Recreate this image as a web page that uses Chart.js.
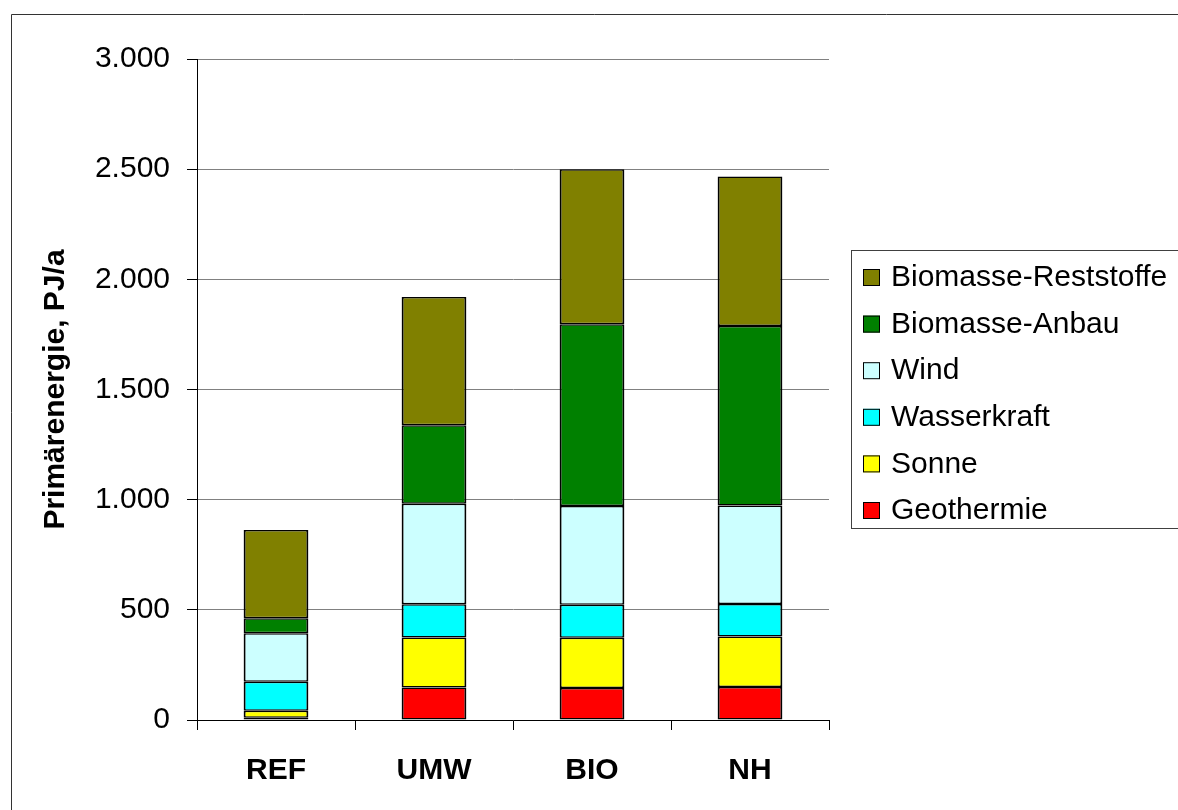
<!DOCTYPE html>
<html>
<head>
<meta charset="utf-8">
<script src="https://cdn.jsdelivr.net/npm/chart.js@4.4.0/dist/chart.umd.min.js"></script>
<style>
    html, body { margin: 0; padding: 0; background: #fff; }
    #wrap { width: 1178px; height: 810px; position: relative; }
</style>
</head>
<body>
<div id="wrap"><canvas id="chart" width="1178" height="810"></canvas></div>
<script>
// Data (PJ/a)
const categories = ['REF', 'UMW', 'BIO', 'NH'];
const geothermie = [10, 147, 145, 150];
const sonne = [32, 228, 228, 229];
const wasserkraft = [132, 150, 150, 148];
const wind = [220, 457, 448, 447];
const biomasseAnbau = [68, 356, 825, 814];
const biomasseReststoffe = [400, 582, 704, 679];
const yTickLabels = ['0', '500', '1.000', '1.500', '2.000', '2.500', '3.000'];

const FONT = "'Liberation Sans', Arial, sans-serif";

function makeSet(label, data, color) {
    return {
        label: label,
        data: data,
        backgroundColor: color,
        borderColor: '#000',
        // sides 2px, stacked edges add up to ~3px
        borderWidth: { top: 1.5, bottom: 1.5, left: 2, right: 2 },
        borderSkipped: false,
        categoryPercentage: 1,
        barPercentage: 0.41
    };
}

// Outer frame of the picture
const framePlugin = {
    id: 'frame',
    afterDraw(chart) {
        const ctx = chart.ctx;
        ctx.save();
        ctx.strokeStyle = '#333';
        ctx.lineWidth = 1;
        ctx.beginPath();
        ctx.moveTo(11.5, 810);
        ctx.lineTo(11.5, 14.5);
        ctx.lineTo(1178, 14.5);
        ctx.stroke();
        ctx.restore();
    }
};

// Boxed legend on the right, top entry = top of stack
const legendPlugin = {
    id: 'boxLegend',
    afterDraw(chart) {
        const ctx = chart.ctx;
        const sets = chart.data.datasets.slice().reverse();
        ctx.save();
        ctx.strokeStyle = '#404040';
        ctx.lineWidth = 1;
        ctx.strokeRect(851.5, 250.5, 340, 278);
        ctx.font = '30px ' + FONT;
        ctx.textBaseline = 'middle';
        ctx.textAlign = 'left';
        sets.forEach((ds, i) => {
            const cy = 277 + i * 46.6;
            ctx.fillStyle = ds.backgroundColor;
            ctx.fillRect(863, cy - 8, 17, 17);
            ctx.strokeStyle = '#000';
            ctx.strokeRect(863.5, cy - 7.5, 16, 16);
            ctx.fillStyle = '#000';
            ctx.fillText(ds.label, 891, cy + 1);
        });
        ctx.restore();
    }
};

new Chart(document.getElementById('chart'), {
    type: 'bar',
    data: {
        labels: categories,
        datasets: [
            makeSet('Geothermie', geothermie, '#FF0000'),
            makeSet('Sonne', sonne, '#FFFF00'),
            makeSet('Wasserkraft', wasserkraft, '#00FFFF'),
            makeSet('Wind', wind, '#CCFFFF'),
            makeSet('Biomasse-Anbau', biomasseAnbau, '#008000'),
            makeSet('Biomasse-Reststoffe', biomasseReststoffe, '#808000')
        ]
    },
    options: {
        responsive: false,
        animation: false,
        layout: { padding: { top: 59, right: 349, left: 0, bottom: 0 } },
        plugins: {
            legend: { display: false },
            tooltip: { enabled: false }
        },
        scales: {
            x: {
                stacked: true,
                afterFit: s => { s.height = 90; },
                grid: {
                    offset: true,
                    drawOnChartArea: true,
                    color: c => (c.index === categories.length ? '#808080' : 'rgba(0,0,0,0)'),
                    tickColor: '#000',
                    tickLength: 10
                },
                border: { color: '#000', width: 1 },
                ticks: {
                    color: '#000',
                    padding: 23,
                    font: { family: FONT, size: 30, weight: 'bold' }
                }
            },
            y: {
                stacked: true,
                min: 0,
                max: 3000,
                afterFit: s => { s.width = 197; },
                grid: {
                    color: '#808080',
                    tickColor: '#000',
                    tickLength: 10
                },
                border: { color: '#000', width: 1 },
                ticks: {
                    stepSize: 500,
                    color: '#000',
                    padding: 17,
                    font: { family: FONT, size: 30 },
                    callback: (v) => yTickLabels[v / 500]
                },
                title: {
                    display: true,
                    text: 'Primärenergie, PJ/a',
                    color: '#000',
                    font: { family: FONT, size: 30, weight: 'bold', lineHeight: 1 },
                    padding: { top: 41, bottom: 0 }
                }
            }
        }
    },
    plugins: [framePlugin, legendPlugin]
});
</script>
</body>
</html>
